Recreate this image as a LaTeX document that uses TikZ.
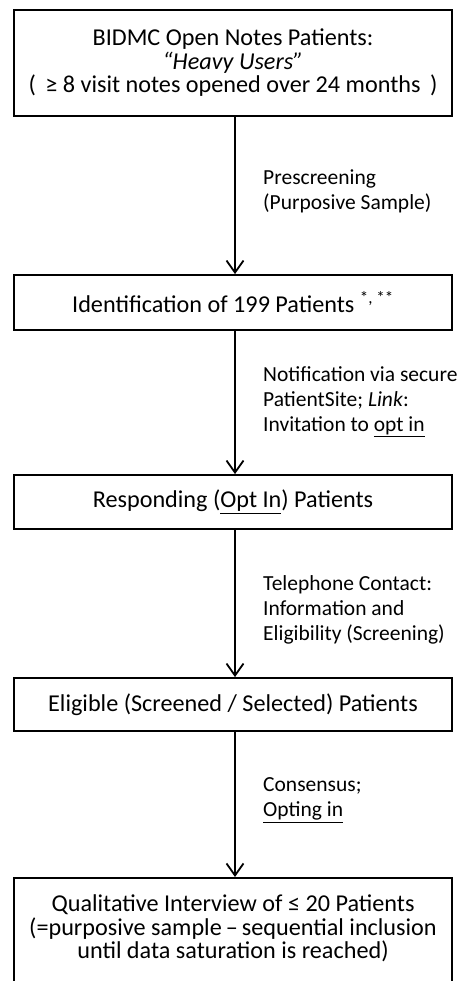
\documentclass[tikz,border=0pt]{standalone}
\usepackage{fontspec}
\setmainfont{Carlito}
\usetikzlibrary{arrows.meta,positioning}
\newcommand{\boxfsz}{\fontsize{24.2pt}{23.5pt}\selectfont}
\newcommand{\labfsz}{\fontsize{21.5pt}{25pt}\selectfont}
\tikzset{
  box/.style={draw, line width=1.8pt, minimum width=438pt, inner xsep=0pt, inner ysep=0pt, align=center, font=\boxfsz},
  flow/.style={draw, line width=1.8pt, -{Straight Barb[length=12pt,width=17pt,line width=1.8pt]}},
  labm/.style={anchor=west, align=left, inner sep=0pt, font=\labfsz}
}

\begin{document}
\begin{tikzpicture}[x=1pt,y=-1pt]
  \useasboundingbox (0,0) rectangle (459,981);
  \coordinate (ax) at (235,0);

  % boxes of the flow
  \node[box, minimum height=106pt] (heavy) at (233,63)
    {BIDMC Open Notes Patients:\\ \textit{“Heavy Users”}\\ (\hspace{4pt} ≥ 8 visit notes opened over 24 months\hspace{4pt} )};
  \node[box, minimum height=55pt] (ident) at (233,302.5)
    {Identification of 199 Patients \textsuperscript{*, **}};
  \node[box, minimum height=54pt] (optin) at (233,502)
    {Responding (\underline{Opt In}) Patients};
  \node[box, minimum height=53pt] (elig) at (233,704.5)
    {Eligible (Screened / Selected) Patients};
  \node[box, anchor=north, inner ysep=17pt, text depth=60pt] (interv) at (233,877)
    {Qualitative Interview of ≤ 20 Patients\\ (=purposive sample\,–\,sequential inclusion\\ until data saturation is reached)};

  % arrows between boxes
  \draw[flow] (heavy.south -| ax) -- (ident.north -| ax);
  \draw[flow] (ident.south -| ax) -- (optin.north -| ax);
  \draw[flow] (optin.south -| ax) -- (elig.north -| ax);
  \draw[flow] (elig.south -| ax) -- (interv.north -| ax);

  % step labels
  \node[labm] (pre) at (263,191.5) {Prescreening\\ (Purposive Sample)};
  \node[labm] (noti) at (263,402) {Notification via secure\\ PatientSite; \textit{Link}:\\ Invitation to \underline{opt in}};
  \node[labm] (tel) at (263,610) {Telephone Contact:\\ Information and\\ Eligibility (Screening)};
  \node[labm] (cons) at (263,800) {Consensus;\\ \underline{Opting in}};
\end{tikzpicture}
\end{document}
